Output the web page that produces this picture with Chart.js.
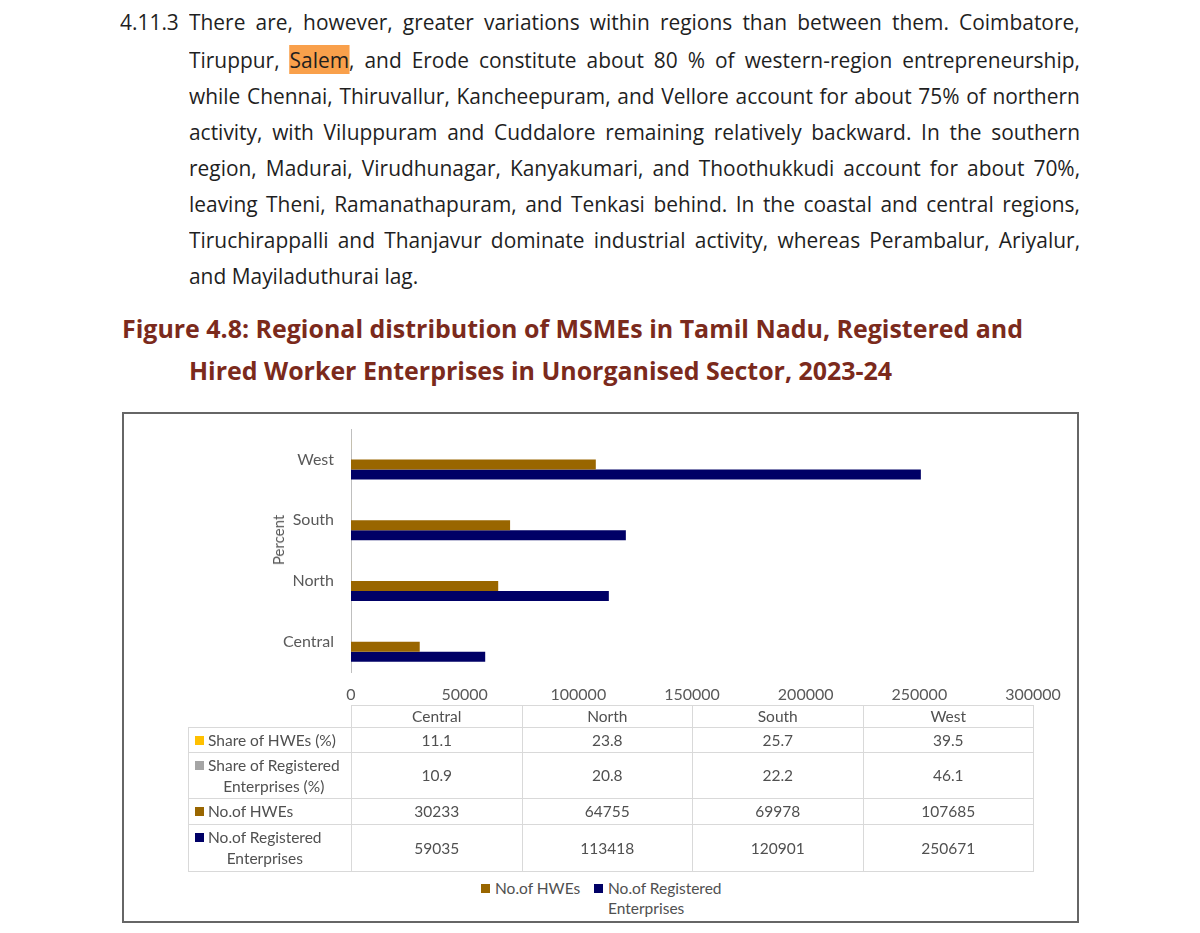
<!DOCTYPE html>
<html><head><meta charset="utf-8">
<script src="https://cdn.jsdelivr.net/npm/chart.js@4.4.1/dist/chart.umd.min.js"></script>
<style>
html,body{margin:0;padding:0;background:#fff;}
body{width:1200px;height:933px;position:relative;overflow:hidden;font-family:'Open Sans',sans-serif;}
.pl{position:absolute;left:189px;white-space:nowrap;font-size:21.5px;line-height:30px;color:#1f1f1f;transform-origin:0 50%;}
.num{position:absolute;left:120px;white-space:nowrap;font-size:21.5px;line-height:30px;color:#1f1f1f;transform-origin:0 50%;}
.hl{background:#F9A04B;}
.tl{position:absolute;white-space:nowrap;font-weight:700;font-size:25px;line-height:34px;color:#7B2A1C;transform-origin:0 50%;}
#box{position:absolute;left:122px;top:412px;width:957px;height:511px;border:2px solid #666;box-sizing:border-box;}
#cw{position:absolute;left:122px;top:412px;width:956px;height:300px;}
#ylab{position:absolute;left:278px;top:540px;transform:translate(-50%,-50%) rotate(-90deg);font-family:Lato,sans-serif;font-size:15px;color:#595959;white-space:nowrap;}
#tbl{position:absolute;left:188px;top:705px;border-collapse:collapse;table-layout:fixed;font-family:Lato,sans-serif;font-size:15.5px;color:#505050;}
#tbl td{border:1px solid #D9D9D9;padding:0;text-align:center;vertical-align:middle;line-height:21px;}
#tbl td.rl{text-align:left;padding-left:6px;white-space:nowrap;}
#tbl td.empty{border:none;}
.key{display:inline-block;width:9px;height:9px;margin-right:4px;vertical-align:top;margin-top:6px;}
.lbl{display:inline-block;text-align:center;vertical-align:top;}
.leg{position:absolute;font-family:Lato,sans-serif;font-size:15.5px;color:#505050;line-height:20px;white-space:nowrap;}
.lsq{position:absolute;width:9px;height:9px;}
</style>
</head>
<body>
<div class="num" style="top:7px">4.11.3</div>
<div class="pl" data-j="1" style="top:7px">There are, however, greater variations within regions than between them. Coimbatore,</div>
<div class="pl" data-j="1" style="top:45px">Tiruppur, <span class="hl">Salem</span>, and Erode constitute about 80 % of western-region entrepreneurship,</div>
<div class="pl" data-j="1" style="top:81px">while Chennai, Thiruvallur, Kancheepuram, and Vellore account for about 75% of northern</div>
<div class="pl" data-j="1" style="top:117px">activity, with Viluppuram and Cuddalore remaining relatively backward. In the southern</div>
<div class="pl" data-j="1" style="top:153px">region, Madurai, Virudhunagar, Kanyakumari, and Thoothukkudi account for about 70%,</div>
<div class="pl" data-j="1" style="top:189px">leaving Theni, Ramanathapuram, and Tenkasi behind. In the coastal and central regions,</div>
<div class="pl" data-j="1" style="top:225px">Tiruchirappalli and Thanjavur dominate industrial activity, whereas Perambalur, Ariyalur,</div>
<div class="pl" data-j="0" style="top:261px">and Mayiladuthurai lag.</div>

<div class="tl" id="t1" style="left:122px;top:311px">Figure 4.8: Regional distribution of MSMEs in Tamil Nadu, Registered and</div>
<div class="tl" id="t2" style="left:189px;top:353px">Hired Worker Enterprises in Unorganised Sector, 2023-24</div>

<div id="box"></div>
<div id="cw"><canvas id="c" width="956" height="300"></canvas></div>
<div id="ylab">Percent</div>
<table id="tbl"></table>
<div id="legend"></div>

<script>
// ---- data ----
const categories = ['Central', 'North', 'South', 'West'];
const shareHWEs = [11.1, 23.8, 25.7, 39.5];
const shareRegistered = [10.9, 20.8, 22.2, 46.1];
const numHWEs = [30233, 64755, 69978, 107685];
const numRegistered = [59035, 113418, 120901, 250671];
const seriesNames = ['Share of HWEs (%)', 'Share of Registered Enterprises (%)', 'No.of HWEs', 'No.of Registered Enterprises'];
const seriesLabelLines = [['Share of HWEs (%)'], ['Share of Registered', 'Enterprises (%)'], ['No.of HWEs'], ['No.of Registered', 'Enterprises']];
const seriesColors = ['#FFC000', '#A5A5A5', '#996600', '#000066'];
const xMin = 0, xMax = 300000, xStep = 50000;

// ---- text layout ----
(function(){
  const lines = Array.from(document.querySelectorAll('.pl'));
  const target = 891;
  let ratios = [];
  lines.forEach(el => { if (el.dataset.j === '1') ratios.push(target / el.scrollWidth); });
  const s = Math.min.apply(null, ratios) * 0.985;
  lines.forEach(el => {
    if (el.dataset.j === '1') {
      const nat = el.scrollWidth;
      const spaces = (el.textContent.match(/ /g) || []).length;
      const ws = (target / s - nat) / spaces;
      el.style.wordSpacing = ws + 'px';
    }
    el.style.transform = 'scaleX(' + s + ')';
  });
  document.querySelector('.num').style.transform = 'scaleX(' + s + ')';
  const t1 = document.getElementById('t1'), t2 = document.getElementById('t2');
  const st = 901 / t1.scrollWidth;
  t1.style.transform = 'scaleX(' + st + ')';
  t2.style.transform = 'scaleX(' + st + ')';
})();

// ---- chart ----
const rev = a => a.slice().reverse();
const seriesData = [shareHWEs, shareRegistered, numHWEs, numRegistered];
const tickFont = {family: 'Lato', size: 16};
const chart = new Chart(document.getElementById('c'), {
  type: 'bar',
  data: {
    labels: rev(categories),
    datasets: seriesData.map((d, i) => ({
      label: seriesNames[i],
      data: rev(d),
      backgroundColor: seriesColors[i],
      borderWidth: 0
    }))
  },
  options: {
    indexAxis: 'y',
    responsive: false,
    animation: false,
    layout: {padding: {left: 149, right: 45, top: 17, bottom: 10}},
    plugins: {legend: {display: false}, tooltip: {enabled: false}},
    datasets: {bar: {categoryPercentage: 0.66, barPercentage: 1}},
    scales: {
      x: {
        min: xMin, max: xMax,
        ticks: {stepSize: xStep, callback: v => String(v), color: '#595959', font: tickFont, padding: 13, maxRotation: 0, autoSkip: false},
        grid: {display: false, drawTicks: false},
        border: {display: false},
        afterFit(s) { s.height = 30; s.paddingLeft = 0; s.paddingRight = 0; }
      },
      y: {
        ticks: {color: '#595959', font: tickFont, padding: 17},
        grid: {display: false, drawTicks: false},
        border: {display: true, color: '#BFBFBF', width: 1},
        afterFit(s) { s.width = 80; s.paddingTop = 0; s.paddingBottom = 0; }
      }
    }
  }
});

// ---- data table (Excel-style) ----
(function(){
  const ca = chart.chartArea;
  const left0 = 122 + ca.left, right0 = 122 + ca.right;
  const colW = (right0 - left0) / categories.length;
  const tbl = document.getElementById('tbl');
  const rowH = [22, 25, 46, 26, 47];
  let html = '<colgroup><col style="width:' + (left0 - 188) + 'px">';
  categories.forEach(() => html += '<col style="width:' + colW + 'px">');
  html += '</colgroup>';
  html += '<tr style="height:' + rowH[0] + 'px"><td class="empty"></td>';
  categories.forEach(c => html += '<td>' + c + '</td>');
  html += '</tr>';
  seriesData.forEach((d, i) => {
    html += '<tr style="height:' + rowH[i + 1] + 'px"><td class="rl"><span class="key" style="background:' + seriesColors[i] + '"></span><span class="lbl">' + seriesLabelLines[i].join('<br>') + '</span></td>';
    d.forEach(v => html += '<td>' + v + '</td>');
    html += '</tr>';
  });
  tbl.innerHTML = html;

  // legend (only count series)
  const lg = document.getElementById('legend');
  lg.innerHTML =
    '<div class="lsq" style="left:481px;top:884px;background:' + seriesColors[2] + '"></div>' +
    '<div class="leg" style="left:495px;top:878px">' + seriesNames[2] + '</div>' +
    '<div class="lsq" style="left:594px;top:884px;background:' + seriesColors[3] + '"></div>' +
    '<div class="leg" style="left:608px;top:878px">' + seriesLabelLines[3].join('<br>') + '</div>';
})();
</script>
</body></html>
